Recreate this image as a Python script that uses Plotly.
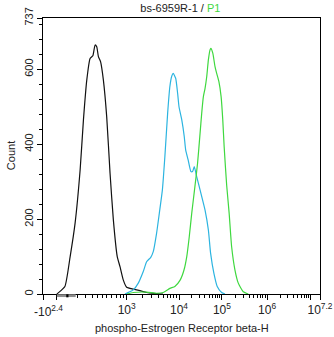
import numpy as np
import plotly.graph_objects as go

# Display channel (0-1000 across the biexponential axis) vs. event count
black_x = [50, 55, 79, 98, 116, 134, 146, 158, 170, 180, 188, 194, 200, 208, 218, 230, 242,
           254, 268, 278, 290, 302, 326, 350, 374, 410, 433]
black_y = [0, 3, 20, 100, 190, 331, 465, 571, 629, 636, 665, 660, 634, 620, 571, 473, 323,
           198, 100, 73, 37, 18, 13, 9, 4, 1, 0]

blue_x = [296, 302, 326, 344, 362, 374, 389, 398, 410, 420, 431, 440, 450, 458, 465, 470, 479,
          486, 491, 501, 510, 515, 524, 534, 540, 546, 555, 567, 585, 597, 605, 617, 629, 645, 657]
blue_y = [0, 2, 11, 29, 60, 86, 98, 113, 162, 216, 278, 367, 483, 554, 582, 589, 576,
          536, 500, 465, 420, 385, 358, 327, 327, 340, 313, 278, 224, 171, 109, 55, 20, 4, 0]

green_x = [303, 326, 374, 410, 434, 458, 476, 495, 509, 519, 528, 537, 547, 558, 567, 573, 579,
           585, 591, 597, 603, 606, 613, 621, 627, 635, 643, 649, 654, 663, 672, 681, 693, 705, 723, 741]
green_y = [0, 4, 5, 2, 4, 15, 20, 37, 64, 100, 153, 216, 278, 349, 429, 483, 527,
           549, 580, 625, 652, 656, 643, 607, 589, 567, 527, 465, 393, 291, 216, 126, 64, 29, 6, 0]

# Axis ticks
x_major_vals = [0, 50, 302, 491, 646, 809, 967, 1000]
x_major_text = ["", "", "10<sup>3</sup>", "10<sup>4</sup>", "10<sup>5</sup>", "10<sup>6</sup>", "",
                "10<sup>7.2</sup>"]
y_tick_vals = [0, 200, 400, 600, 737]
y_tick_text = ["0", "200", "400", "600", "737"]

FONT = "Liberation Sans, Arial, sans-serif"
TEXT = "#222222"
BLUE = "#2cb4e0"
GREEN = "#3fd83f"

# minor ticks: linear region below 10^3, log-spaced within each decade above
decades = [(302, 491), (491, 646), (646, 809), (809, 967)]
x_minor = [126, 152, 177, 195, 213, 231, 249, 267, 278, 289]
for a, b in decades:
    x_minor += [a + np.log10(k) * (b - a) for k in range(2, 10)]
x_minor += [967 + np.log10(k) * 158 for k in range(2, 10) if np.log10(k) < 0.2]

fig = go.Figure()
line_kw = dict(shape="spline", smoothing=0.5, width=1.2)
fig.add_trace(go.Scatter(x=black_x, y=black_y, mode="lines",
                         line=dict(color="#111111", **line_kw), hoverinfo="skip"))
fig.add_trace(go.Scatter(x=blue_x, y=blue_y, mode="lines",
                         line=dict(color=BLUE, **line_kw), hoverinfo="skip"))
fig.add_trace(go.Scatter(x=green_x, y=green_y, mode="lines",
                         line=dict(color=GREEN, **line_kw), hoverinfo="skip"))

# gate marker bar under the axis
fig.add_shape(type="rect", xref="x", yref="paper", x0=50, x1=118, y0=-0.011, y1=-0.001,
              fillcolor="#8c8c8c", line=dict(width=0))
fig.add_shape(type="rect", xref="x", yref="paper", x0=84, x1=92, y0=-0.012, y1=-0.001,
              fillcolor="#000000", line=dict(width=0))

tick_font = dict(family=FONT, size=12, color=TEXT)
fig.add_annotation(x=20, xref="x", y=-0.027, yref="paper", yanchor="top",
                   text="-10<sup>2.4</sup>", showarrow=False, font=tick_font)

# axis titles
fig.add_annotation(x=0.5, xref="paper", y=-0.123, yref="paper", yanchor="middle",
                   text="phospho-Estrogen Receptor beta-H", showarrow=False,
                   font=dict(family=FONT, size=11, color=TEXT))
fig.add_annotation(x=-0.115, xref="paper", y=0.5, yref="paper", xanchor="center",
                   text="Count", textangle=-90, showarrow=False,
                   font=dict(family=FONT, size=11, color=TEXT))

fig.update_layout(
    width=334, height=337,
    margin=dict(l=43, r=14, t=18, b=43, autoexpand=False),
    paper_bgcolor="white", plot_bgcolor="white",
    showlegend=False,
    font=dict(family=FONT, size=11, color=TEXT),
    title=dict(text='bs-6959R-1 / <span style="color:%s">P1</span>' % GREEN,
               x=0.54, xanchor="center", y=0.975, yanchor="middle", yref="container",
               font=dict(family=FONT, size=11, color=TEXT)),
    xaxis=dict(range=[0, 1000], showline=True, linecolor="black", linewidth=1, mirror=True,
               automargin=False,
               showgrid=False, zeroline=False, ticks="outside", ticklen=5, tickwidth=1,
               tickcolor="black", tickmode="array", tickvals=x_major_vals, ticktext=x_major_text,
               minor=dict(tickmode="array", tickvals=x_minor, ticks="outside", ticklen=3,
                          tickcolor="black", showgrid=False),
               tickfont=tick_font),
    yaxis=dict(range=[0, 737], showline=True, linecolor="black", linewidth=1, mirror=True,
               automargin=False,
               showgrid=False, zeroline=False, ticks="outside", ticklen=5, tickwidth=1,
               tickcolor="black", tickmode="array", tickvals=y_tick_vals, ticktext=y_tick_text,
               tickangle=-90,
               minor=dict(tickmode="linear", tick0=0, dtick=40, ticks="outside", ticklen=3,
                          tickcolor="black", showgrid=False),
               tickfont=dict(family=FONT, size=11, color=TEXT)),
)

fig.write_html("out.html")
